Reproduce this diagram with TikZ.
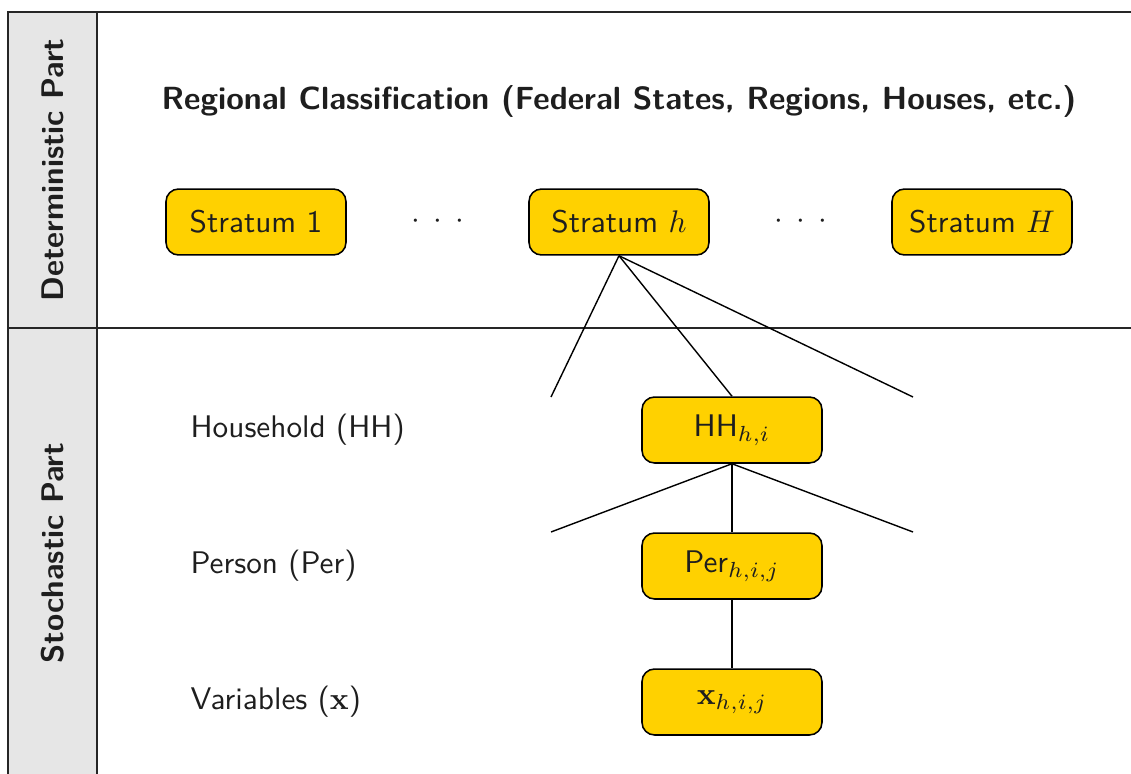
\documentclass[tikz,border=0pt]{standalone}
\usepackage{amsmath}
\definecolor{boxyellow}{RGB}{255,209,0}
\definecolor{colgray}{RGB}{230,230,230}
\definecolor{txt}{RGB}{30,30,30}
\begin{document}
\begin{tikzpicture}[x=0.32pt,y=-0.32pt,font=\sffamily,
  unit/.style={draw=black,fill=boxyellow,rounded corners=4pt,line width=0.5pt,
    minimum width=57.6pt,minimum height=21.1pt,inner sep=0pt,text=txt},
  side/.style={font=\sffamily\bfseries,rotate=90,text=txt},
  lvl/.style={anchor=west,text=txt,inner sep=0pt},
  dots/.style={text=txt,inner sep=0pt},
  link/.style={line width=0.45pt}]
\useasboundingbox (0,0) rectangle (1131,774);
% left column
\fill[colgray] (8,12) rectangle (97,774);
\draw[line width=0.9pt,black!85] (8,774) -- (8,12) -- (1131,12);
\draw[line width=0.6pt,black!85] (97,12) -- (97,774);
\draw[line width=0.9pt,black!85] (8,328) -- (1131,328);
\node[side] (det) at (53,170) {Deterministic Part};
\node[side] (sto) at (53,553) {Stochastic Part};
% title
\node[font=\fontsize{10.25}{12}\sffamily\bfseries,text=txt] (title) at (619,101) {Regional Classification (Federal States, Regions, Houses, etc.)};
% strata
\node[unit] (s1) at (256,222) {Stratum 1};
\node[unit] (sh) at (619,222) {Stratum $h$};
\node[unit] (sH) at (982,222) {Stratum $H$};
\node[dots] (d1) at (438,222) {${\cdot}\hspace{4.3pt}{\cdot}\hspace{4.3pt}{\cdot}$};
\node[dots] (d2) at (801,222) {${\cdot}\hspace{4.3pt}{\cdot}\hspace{4.3pt}{\cdot}$};
% lower units
\node[unit] (hh) at (732,430) {HH$_{h,i}$};
\node[unit] (per) at (732,566) {Per$_{h,i,j}$};
\node[unit] (x) at (732,702) {$\mathbf{x}_{h,i,j}$};
% level labels
\node[lvl] (lhh) at (190,430) {Household (HH)};
\node[lvl] (lper) at (190,566) {Person (Per)};
\node[lvl] (lx) at (190,702) {Variables ($\mathbf{x}$)};
% branch ends
\coordinate (a1) at (551,397);
\coordinate (a2) at (913,397);
\coordinate (b1) at (551,532);
\coordinate (b2) at (913,532);
\draw[link] (sh.south) -- (a1);
\draw[link] (sh.south) -- (a2);
\draw[link] (sh.south) -- (hh.north);
\draw[link] (hh.south) -- (b1);
\draw[link] (hh.south) -- (b2);
\draw[link] (hh.south) -- (per.north);
\draw[link] (per.south) -- (x.north);
\end{tikzpicture}
\end{document}
